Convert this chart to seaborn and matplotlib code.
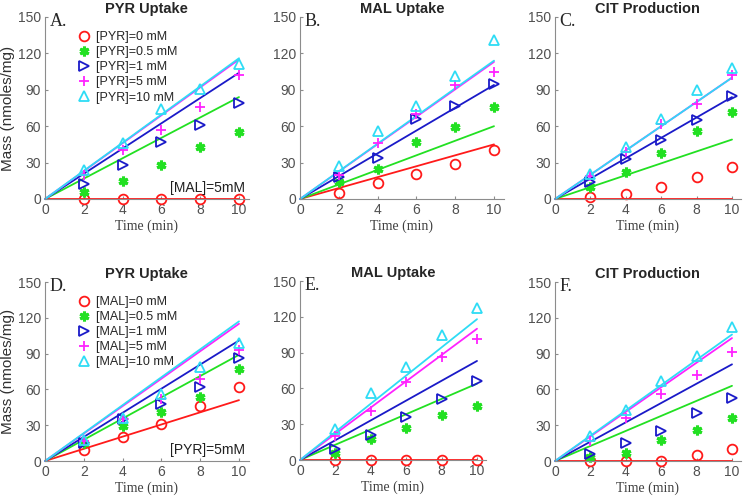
import numpy as np
import pandas as pd
import seaborn as sns
import matplotlib.pyplot as plt
from matplotlib.lines import Line2D

# sampling times and fit end-points
t = [2, 4, 6, 8, 10]
t_fit = [0, 10]

labels_top = ['[PYR]=0 mM', '[PYR]=0.5 mM', '[PYR]=1 mM', '[PYR]=5 mM', '[PYR]=10 mM']
labels_bot = ['[MAL]=0 mM', '[MAL]=0.5 mM', '[MAL]=1 mM', '[MAL]=5 mM', '[MAL]=10 mM']

# measured points (rows: 0, 0.5, 1, 5, 10 mM)
pts_A = [[0, 0, 0, 0, 0], [6, 15, 28, 43, 55], [12, 28, 47, 61, 79],
         [20, 40, 57, 76, 102], [24, 46, 74, 91, 111]]
pts_B = [[5, 13, 21, 29, 40], [14, 25, 47, 59, 76], [18, 34, 66, 77, 95],
         [20, 46, 70, 94, 105], [27, 56, 77, 101, 131]]
pts_C = [[2, 4, 10, 18, 26], [10, 22, 38, 56, 72], [14, 33, 49, 65, 85],
         [19, 39, 62, 78, 102], [21, 43, 66, 90, 108]]
pts_D = [[9, 20, 31, 46, 62], [15, 29, 41, 54, 77], [15, 35, 48, 62, 86],
         [17, 35, 52, 69, 93], [18, 36, 56, 79, 99]]
pts_E = [[0, 0, 0, 0, 0], [6, 18, 27, 38, 45], [9, 21, 36, 51, 66],
         [20, 41, 65, 86, 101], [26, 56, 78, 105, 127]]
pts_F = [[0, 0, 0, 5, 10], [3, 7, 18, 26, 36], [6, 15, 25, 40, 53],
         [17, 36, 56, 72, 91], [21, 43, 67, 88, 112]]

# model line values at t=0 and t=10
fit_A = [[0, 0], [0, 84], [0, 104], [0, 115], [0, 116]]
fit_B = [[0, 45], [0, 60], [0, 94], [0, 113], [0, 114]]
fit_C = [[0, 0], [0, 49], [0, 84], [0, 100], [0, 100]]
fit_D = [[0, 51], [0, 89], [0, 101], [0, 115], [0, 117]]
fit_E = [[0, 0], [0, 64], [0, 83], [0, 110], [0, 118]]
fit_F = [[0, 0], [0, 63], [0, 81], [0, 103], [0, 106]]

colors = ['#FF1A1A', '#22E022', '#1A1AC8', '#FF22FF', '#2EDCF5']
markers = ['o', (6, 2, 0), '>', '+', '^']
filled = [False, True, False, False, False]
mews = [1.3, 2.2, 1.3, 1.3, 1.3]

sns.set_style('ticks')
plt.rcParams['font.family'] = ['Liberation Sans', 'DejaVu Sans']

fig = plt.figure(figsize=(7.5, 4.98), dpi=100)
W, H = 750, 498

# axes boxes in pixels: (x0 px, x10 px, y0 px, y150 px)
boxes = {
    'A': (45, 239, 199, 17), 'B': (300, 494, 199, 17), 'C': (555, 732, 199, 17),
    'D': (45, 239, 461, 282), 'E': (300, 477, 460, 281), 'F': (555, 732, 461, 282),
}
panels = [
    ('A', 'PYR Uptake', pts_A, fit_A, labels_top, '[MAL]=5mM'),
    ('B', 'MAL Uptake', pts_B, fit_B, None, None),
    ('C', 'CIT Production', pts_C, fit_C, None, None),
    ('D', 'PYR Uptake', pts_D, fit_D, labels_bot, '[PYR]=5mM'),
    ('E', 'MAL Uptake', pts_E, fit_E, None, None),
    ('F', 'CIT Production', pts_F, fit_F, None, None),
]
xmax = 10.5

for key, title, pts, fit, labels, note in panels:
    x0, x10, y0, y150 = boxes[key]
    pxu = (x10 - x0) / 10.0
    left = x0 / W
    width = pxu * xmax / W
    bottom = 1 - y0 / H
    height = (y0 - y150) / H
    ax = fig.add_axes([left, bottom, width, height])

    handles = []
    for i in range(5):
        sns.lineplot(x=t_fit, y=fit[i], ax=ax, color=colors[i], linewidth=1.3,
                     clip_on=False)
    for i in range(5):
        mfc = colors[i] if filled[i] else 'none'
        sns.lineplot(x=t, y=pts[i], ax=ax, color=colors[i], linestyle='',
                     marker=markers[i], markersize=7, mfc=mfc, mec=colors[i],
                     mew=mews[i], clip_on=False)
        if labels:
            handles.append(Line2D([], [], linestyle='', marker=markers[i],
                                  markersize=7, mfc=mfc, mec=colors[i],
                                  mew=mews[i], label=labels[i]))

    ax.set_xlim(0, xmax)
    ax.set_ylim(0, 150)
    ax.set_xticks([0, 2, 4, 6, 8, 10])
    ax.set_yticks([0, 30, 60, 90, 120, 150])
    sns.despine(ax=ax)
    for s in ['left', 'bottom']:
        ax.spines[s].set_color('#8c8c8c')
        ax.spines[s].set_linewidth(0.8)
    ax.tick_params(direction='in', length=2, color='#8c8c8c', labelsize=10,
                   labelcolor='#505050', pad=3)

    ax.set_xlabel('Time (min)', family='Liberation Serif', fontsize=10,
                  color='#404040', labelpad=2)
    if key in ('A', 'D'):
        ax.set_ylabel('Mass (nmoles/mg)', fontsize=11, color='#303030', labelpad=2)
    else:
        ax.set_ylabel('')
    ax.set_title(title, fontsize=10.5, fontweight='bold', pad=3)
    ax.text(0.25, 146, key + '.', family='Liberation Serif', fontsize=13,
            va='center', ha='left')

    if labels:
        ax.legend(handles=handles, loc='upper left', bbox_to_anchor=(0.13, 0.95),
                  frameon=False, fontsize=9, handletextpad=0.4, labelspacing=0.25,
                  borderaxespad=0, handlelength=1.2)
    if note:
        ax.text(10.3, 9, note, fontsize=10, ha='right', va='center', color='#202020')

fig.savefig('out.png', dpi=100)
